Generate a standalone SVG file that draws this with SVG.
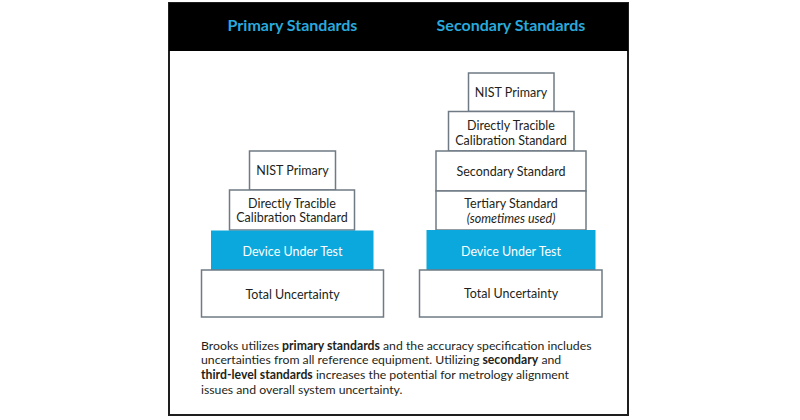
<svg xmlns="http://www.w3.org/2000/svg" width="800" height="420" viewBox="0 0 800 420">
<style>
.box{fill:#ffffff;stroke:#6f7a84;stroke-width:1.5}
.dut{fill:#0aa8dc;stroke:none}
.t{font-family:Lato,"Liberation Sans",sans-serif;font-size:12.5px;fill:#231f20;text-anchor:middle}
.w{fill:#ffffff}
.h{font-family:Lato,"Liberation Sans",sans-serif;font-size:16px;font-weight:bold;fill:#29a9dc;text-anchor:middle}
.p{font-family:Lato,"Liberation Sans",sans-serif;font-size:12.25px;fill:#231f20}
.b{font-weight:bold}
</style>
<rect x="0" y="0" width="800" height="420" fill="#ffffff"/>
<rect id="frame" x="169" y="3" width="459" height="412" fill="#ffffff" stroke="#1e1e1e" stroke-width="2"/>
<rect id="header" x="169" y="3" width="459" height="48" fill="#000000"/>
<text class="h" x="292.5" y="30.5">Primary Standards</text>
<text class="h" x="511" y="30.5">Secondary Standards</text>

<g id="connectors"></g>

<g id="p-nist"><rect class="box" x="249.5" y="151" width="86" height="39"/><text class="t" x="292.5" y="175">NIST Primary</text></g>
<g id="p-direct"><rect class="box" x="229.5" y="190" width="125" height="40"/><text class="t" x="292" y="207.5">Directly Tracible</text><text class="t" x="292" y="222">Calibration Standard</text></g>
<g id="p-dut"><rect class="dut" x="211" y="230.5" width="162.5" height="39.5"/><text class="t w" x="292.5" y="255.5">Device Under Test</text></g>
<g id="p-total"><rect class="box" x="201.5" y="270" width="182" height="47"/><text class="t" x="292.5" y="298.5">Total Uncertainty</text></g>

<g id="s-nist"><rect class="box" x="468.5" y="73" width="85.5" height="38.5"/><text class="t" x="511" y="97">NIST Primary</text></g>
<g id="s-direct"><rect class="box" x="448.5" y="111.5" width="125.5" height="39.5"/><text class="t" x="511" y="130">Directly Tracible</text><text class="t" x="511" y="144.5">Calibration Standard</text></g>
<g id="s-secondary"><rect class="box" x="436" y="151" width="150" height="40"/><text class="t" x="511" y="175.5">Secondary Standard</text></g>
<g id="s-tertiary"><rect class="box" x="436" y="191" width="150" height="39"/><text class="t" x="511" y="207.5">Tertiary Standard</text><text class="t" x="511" y="223" font-style="italic" font-size="12px">(sometimes used)</text></g>
<g id="s-dut"><rect class="dut" x="426.5" y="230" width="169" height="40"/><text class="t w" x="511" y="256">Device Under Test</text></g>
<g id="s-total"><rect class="box" x="419.5" y="270" width="182.5" height="47"/><text class="t" x="511" y="298">Total Uncertainty</text></g>

<g id="caption">
<text class="p" x="201" y="349.5">Brooks utilizes <tspan class="b">primary standards</tspan> and the accuracy specification includes</text>
<text class="p" x="201" y="364.3">uncertainties from all reference equipment. Utilizing <tspan class="b">secondary</tspan> and</text>
<text class="p" x="201" y="379"><tspan class="b">third-level standards</tspan> increases the potential for metrology alignment</text>
<text class="p" x="201" y="393.5">issues and overall system uncertainty.</text>
</g>
</svg>
